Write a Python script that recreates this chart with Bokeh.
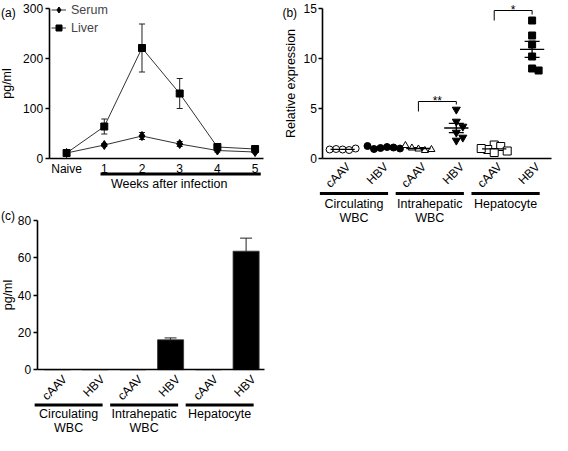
import math
import numpy as np
from bokeh.plotting import figure
from bokeh.models import (ColumnDataSource, Whisker, TeeHead, FixedTicker, Range1d,
                          Legend, LegendItem)
from bokeh.layouts import row, column
from bokeh.embed import file_html
from bokeh.resources import INLINE
from bokeh.core.properties import value

FONT = "Liberation Sans"

# ---------------- data ----------------
# Panel (a)
week_labels = ["Naive", "1", "2", "3", "4", "5"]
serum_mean = [11, 27, 45, 29, 16, 13]
serum_err = [2, 3, 7, 5, 3, 2]
liver_mean = [11, 64, 221, 130, 23, 19]
liver_err = [2, 15, 48, 30, 7, 3]

# Panel (b)
cell_labels = ["cAAV", "HBV", "cAAV", "HBV", "cAAV", "HBV"]
group_line1 = ["Circulating", "Intrahepatic", "Hepatocyte"]
group_line2 = ["WBC", "WBC", ""]
circ_cAAV = [0.9, 0.85, 0.95, 1.0, 0.9]
circ_HBV = [1.05, 1.15, 0.95, 1.1, 1.25, 1.0]
intra_cAAV = [0.95, 0.8, 1.05, 0.9, 1.3]
intra_HBV = [4.9, 3.7, 3.2, 2.6, 2.1, 1.8]
hep_cAAV = [1.35, 1.2, 0.9, 0.75, 0.6, 1.0]
hep_HBV = [13.8, 12.3, 11.4, 10.2, 9.0, 8.8]
sig_pairs = [(2, 3, "**"), (4, 5, "*")]

# Panel (c)
c_mean = [0, 0, 0, 16, 0, 63.5]
c_err = [0, 0, 0, 1, 0, 7]


def make_fig(w, h, xr, yr):
    p = figure(width=w, height=h, x_range=Range1d(*xr), y_range=Range1d(*yr),
               output_backend="svg", toolbar_location=None,
               min_border_left=0, min_border_right=0, min_border_top=0,
               min_border_bottom=0)
    # square pixel ranges (1 unit = 1 px both ways) for rotated texts
    p.extra_x_ranges = {"px": Range1d(0, w)}
    p.extra_y_ranges = {"px": Range1d(0, h)}
    p.grid.visible = False
    p.outline_line_color = None
    p.background_fill_color = "white"
    p.border_fill_color = "white"
    for ax in p.axis:
        ax.axis_line_width = 1.6
        ax.axis_line_color = "black"
        ax.major_tick_line_width = 1.5
        ax.major_tick_line_color = "black"
        ax.minor_tick_line_color = None
        ax.major_tick_in = 0
        ax.major_label_text_font = FONT
        ax.major_label_text_font_size = "12px"
        ax.major_label_text_color = "black"
        ax.axis_label_text_font = FONT
        ax.axis_label_text_font_size = "12.5px"
        ax.axis_label_text_font_style = "normal"
        ax.axis_label_text_color = "black"
    return p


def txt(p, xs, ys, texts, size="12.5px", align="center", baseline="middle", **kw):
    p.text(x=xs, y=ys, text=texts, text_font=value(FONT), text_font_size=size,
           text_align=align, text_baseline=baseline, text_color="black", **kw)


def setup_y(p, xloc, ticks, label, standoff):
    p.yaxis.fixed_location = xloc
    p.yaxis.bounds = (ticks[0], ticks[-1])
    p.yaxis.ticker = FixedTicker(ticks=ticks)
    p.yaxis.major_tick_out = 4
    p.yaxis.major_label_standoff = 2
    p.yaxis.axis_label = label
    p.yaxis.axis_label_standoff = standoff


# ---------------- panel (a) ----------------
xa = np.arange(len(week_labels))
fa = make_fig(280, 202, (-1.753, 5.674), (-88, 316))
src_s = ColumnDataSource(dict(x=xa, y=serum_mean,
                              up=np.array(serum_mean) + np.array(serum_err),
                              lo=np.array(serum_mean) - np.array(serum_err)))
src_l = ColumnDataSource(dict(x=xa, y=liver_mean,
                              up=np.array(liver_mean) + np.array(liver_err),
                              lo=np.array(liver_mean) - np.array(liver_err)))
for src in (src_l, src_s):
    fa.add_layout(Whisker(source=src, base="x", upper="up", lower="lo", line_width=1,
                          line_color="#222",
                          upper_head=TeeHead(size=6, line_width=1, line_color="#222"),
                          lower_head=TeeHead(size=6, line_width=1, line_color="#222")))
l_line = fa.line("x", "y", source=src_l, line_color="#333", line_width=1)
l_pts = fa.scatter("x", "y", source=src_l, marker="square", size=7, fill_color="black",
                   line_color="black")
s_line = fa.line("x", "y", source=src_s, line_color="#333", line_width=1)
s_pts = fa.scatter("x", "y", source=src_s, marker="diamond", size=9, fill_color="black",
                   line_color="black")
leg = Legend(items=[LegendItem(label="Serum", renderers=[s_line, s_pts]),
                    LegendItem(label="Liver", renderers=[l_line, l_pts])],
             location=(51, 166), border_line_color=None, background_fill_alpha=0,
             label_text_font=FONT, label_text_font_size="12.5px", glyph_width=15,
             glyph_height=17, label_height=17, spacing=1, padding=0, margin=0,
             label_standoff=5)
fa.add_layout(leg)
fa.xaxis.fixed_location = 0
fa.xaxis.bounds = (-0.464, 5.21)
fa.xaxis.ticker = FixedTicker(ticks=list(xa))
fa.xaxis.major_label_overrides = {int(i): lab for i, lab in zip(xa, week_labels)}
fa.xaxis.major_tick_out = 0
fa.xaxis.major_label_standoff = 3
setup_y(fa, -0.464, [0, 100, 200, 300], "pg/ml", 6)
fa.segment(x0=[0.9], x1=[5.15], y0=[-31], y1=[-31], line_color="black", line_width=3)
txt(fa, [2.72], [-50], ["Weeks after infection"])
txt(fa, [-1.74], [291], ["(a)"], size="12px", align="left")


# ---------------- helpers for (b)/(c) ----------------
def group_annotations(p, w, h, y_line, y1, y2, rot_dx, rot_dy_px):
    g = np.arange(len(group_line1))
    p.segment(x0=2 * g - 0.6, x1=2 * g + 1.2, y0=[y_line] * len(g), y1=[y_line] * len(g),
              line_color="black", line_width=3)
    txt(p, list(2 * g + 0.3), [y1] * len(g), group_line1)
    txt(p, list(2 * g + 0.3), [y2] * len(g), group_line2)
    # rotated category labels, positioned through the square pixel ranges
    xr, yr = p.x_range, p.y_range
    sx = w / (xr.end - xr.start)
    sy = h / (yr.end - yr.start)
    xt = np.arange(len(cell_labels))
    px = (xt + rot_dx - xr.start) * sx
    py = (0 - yr.start) * sy - rot_dy_px
    txt(p, list(px), [py] * len(xt), cell_labels, size="12px", align="right",
        baseline="middle", angle=math.pi / 4, x_range_name="px", y_range_name="px")


def cat_axis(p, bounds):
    p.xaxis.fixed_location = 0
    p.xaxis.bounds = bounds
    p.xaxis.ticker = FixedTicker(ticks=[])
    p.xaxis.major_tick_out = 0


def swarm(vals, x0, px_x, px_y, d=6.5):
    placed = []
    out = []
    for v in vals:
        k = 0
        while True:
            cands = [0.0] if k == 0 else [k * d, -k * d]
            ok = None
            for c in cands:
                if all((c - px) ** 2 + ((v - py) * px_y) ** 2 >= (d * 0.95) ** 2
                       for px, py in placed):
                    ok = c
                    break
            if ok is not None:
                placed.append((ok, v))
                out.append(x0 + ok / px_x)
                break
            k += 0.5
    return out


# ---------------- panel (b) ----------------
fb = make_fig(272, 240, (-1.639, 5.538), (-8.2, 15.8))
groups = [circ_cAAV, circ_HBV, intra_cAAV, intra_HBV, hep_cAAV, hep_HBV]
markers = ["circle", "circle", "triangle", "inverted_triangle", "square", "square"]
fills = ["white", "black", "white", "black", "white", "black"]
sizes = [7, 7, 7, 8, 8, 7]
px_x = 37.9
px_y = 10.0
means, sems = [], []
for i, vals in enumerate(groups):
    arr = np.array(vals, dtype=float)
    means.append(arr.mean())
    sems.append(arr.std(ddof=1) / math.sqrt(len(arr)))
    xs = swarm(vals, i, px_x, px_y)
    fb.scatter(xs, vals, marker=markers[i], size=sizes[i], fill_color=fills[i],
               line_color="black", line_width=1)
xb = np.arange(len(groups))
means = np.array(means)
sems = np.array(sems)
fb.segment(x0=xb - 0.32, x1=xb + 0.32, y0=means, y1=means, line_color="black",
           line_width=1.3)
src_b = ColumnDataSource(dict(x=xb, up=means + sems, lo=means - sems))
fb.add_layout(Whisker(source=src_b, base="x", upper="up", lower="lo", line_width=1.3,
                      line_color="black",
                      upper_head=TeeHead(size=15, line_width=1.3, line_color="black"),
                      lower_head=TeeHead(size=15, line_width=1.3, line_color="black")))
for a, b, star in sig_pairs:
    hi = max(groups[b])
    top = hi + (0.8 if b == 3 else 1.0)
    fb.line([a, a, b, b], [top - 1.0, top, top, hi + (0.5 if b == 3 else 0.6)],
            line_color="black", line_width=1)
    txt(fb, [(a + b) / 2], [top + 0.1], [star], size="12px", baseline="alphabetic")
cat_axis(fb, (-0.52, 5.51))
setup_y(fb, -0.52, [0, 5, 10, 15], "Relative expression", 2)
group_annotations(fb, 272, 240, -3.5, -4.5, -5.9, 0.15, 6.3)
txt(fb, [-1.588], [14.55], ["(b)"], size="12px", align="left")

# ---------------- panel (c) ----------------
fc = make_fig(280, 233, (-1.504, 5.911), (-35.3, 89.6))
xc = np.arange(len(c_mean))
fc.vbar(x=xc, top=c_mean, width=0.69, fill_color="black", line_color="#333",
        line_width=0.8)
cm = np.array(c_mean, dtype=float)
ce = np.array(c_err, dtype=float)
keep = ce > 0
src_c = ColumnDataSource(dict(x=xc[keep], up=(cm + ce)[keep], lo=cm[keep]))
fc.add_layout(Whisker(source=src_c, base="x", upper="up", lower="lo", line_width=1,
                      line_color="#222",
                      upper_head=TeeHead(size=12, line_width=1, line_color="#222"),
                      lower_head=None))
cat_axis(fc, (-0.535, 5.49))
setup_y(fc, -0.535, [0, 20, 40, 60, 80], "pg/ml", 0)
group_annotations(fc, 280, 233, -18.9, -23.6, -31.1, 0.2, 7.7)
txt(fc, [-1.49], [82.4], ["(c)"], size="12px", align="left")

layout = row(column(fa, fc), fb)
open("out.html", "w").write(file_html(layout, INLINE))
